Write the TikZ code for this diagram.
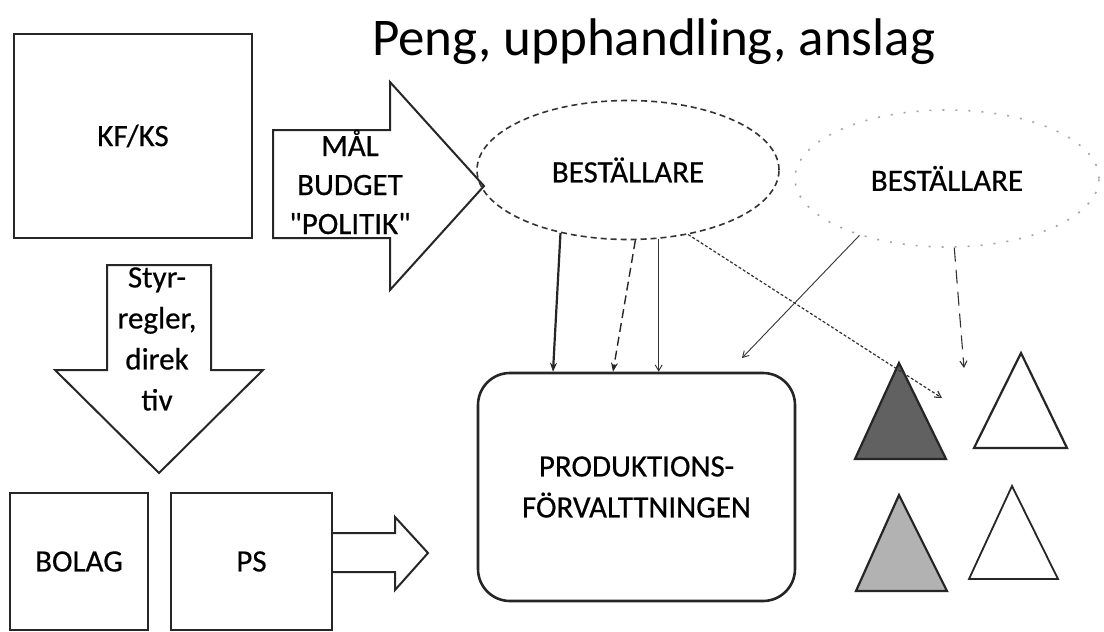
\documentclass[tikz,border=0pt]{standalone}
\usepackage{fontspec}
\setmainfont{Carlito}
\newfontfamily\labelfont{Carlito}[FakeBold=0.5]
\newfontfamily\titlefont{Carlito}
\usetikzlibrary{shapes.geometric,arrows.meta,calc}
\begin{document}
\begin{tikzpicture}[x=1pt,y=-1pt,
  lbl/.style={font=\labelfont\fontsize{31}{41}\selectfont, align=center, inner sep=0pt},
  box/.style={draw=black!85, line width=2.2pt},
  blockarrow/.style={draw=black!85, line width=2pt, line join=miter, fill=white},
  tri/.style={draw=black!85, line width=2.2pt, line join=miter},
  conn/.style={draw=black!85, -{Stealth[length=9pt,width=7pt]}},
  thinconn/.style={draw=black!80, line width=0.9pt, -{Straight Barb[length=6pt,width=7pt]}}
]
\useasboundingbox (0,0) rectangle (1104,632);
\fill[white] (0,0) rectangle (1104,632);

% title
\node[font=\titlefont\fontsize{53}{60}\selectfont, anchor=base west, inner sep=0pt] (title) at (372,55) {Peng, upphandling, anslag};

% KF/KS box
\node[box, lbl, minimum width=238pt, minimum height=204pt] (kf) at (133,136) {KF/KS};

% MÅL arrow
\draw[blockarrow] (273,130) -- (390,130) -- (390,82) -- (484,186) -- (390,290) -- (390,238) -- (273,238) -- cycle;
\node[lbl, font=\labelfont\fontsize{31}{39}\selectfont] (mal) at (350,182) {MÅL\\BUDGET\\"POLITIK"};

% Styr arrow
\draw[blockarrow] (107,265) -- (211,265) -- (211,370) -- (263,370) -- (159,473) -- (55,370) -- (107,370) -- cycle;
\node[lbl] (styr) at (157,339) {Styr-\\regler,\\direk\\tiv};

% bottom boxes
\node[box, lbl, minimum width=138pt, minimum height=137pt] (bolag) at (79,561.5) {BOLAG};
\node[box, lbl, minimum width=161pt, minimum height=137pt] (ps) at (251.5,561.5) {PS};

% small arrow from PS
\draw[blockarrow] (ps.east |- 0,533) -- (395,533) -- (395,517) -- (428,553) -- (395,590) -- (395,572) -- (ps.east |- 0,572);

% production box
\node[box, lbl, rounded corners=32pt, minimum width=317pt, minimum height=228pt, line width=2.6pt] (prod) at (636.5,487) {PRODUKTIONS-\\FÖRVALTTNINGEN};

% ellipses
\node[ellipse, draw=black!80, line width=1.6pt, dash pattern=on 6pt off 4pt, lbl, minimum width=302pt, minimum height=139pt] (bes1) at (628,170) {BESTÄLLARE};
\node[ellipse, draw=black!35, line width=1.6pt, dash pattern=on 2pt off 11pt, lbl, minimum width=304pt, minimum height=137pt] (bes2) at (947,178.5) {BESTÄLLARE};

% triangles
\draw[tri, fill=black!62] (899,363) -- (946,459) -- (855,459) -- cycle;
\draw[tri, fill=white] (1021,353) -- (1067,448) -- (974,448) -- cycle;
\draw[tri, fill=black!30] (899,495) -- (947,591) -- (856,591) -- cycle;
\draw[tri, fill=white, line width=1.8pt] (1012,486) -- (1058,579) -- (969,579) -- cycle;

% connectors from BESTÄLLARE 1
\draw[conn, line width=2.2pt] (bes1.223.6) -- ($(prod.north)+(-83.5,0)$);
\draw[conn, line width=1.4pt, dash pattern=on 9pt off 5pt] (bes1.276) -- ($(prod.north)+(-23.5,0)$);
\draw[thinconn] (bes1.294.3) -- (bes1.294.3 |- prod.north);
\coordinate (tgt1) at (942,398);
\draw[thinconn, line width=1.2pt, dash pattern=on 3pt off 2pt] (bes1.313.6) -- (tgt1);

% connectors from BESTÄLLARE 2
\coordinate (tgt2) at (742,358);
\draw[thinconn] (bes2.213.6) -- (tgt2);
\coordinate (tgt3) at (964,368);
\draw[thinconn, line width=1.1pt, dash pattern=on 14pt off 8pt] (bes2.276.6) -- (tgt3);
\end{tikzpicture}
\end{document}
